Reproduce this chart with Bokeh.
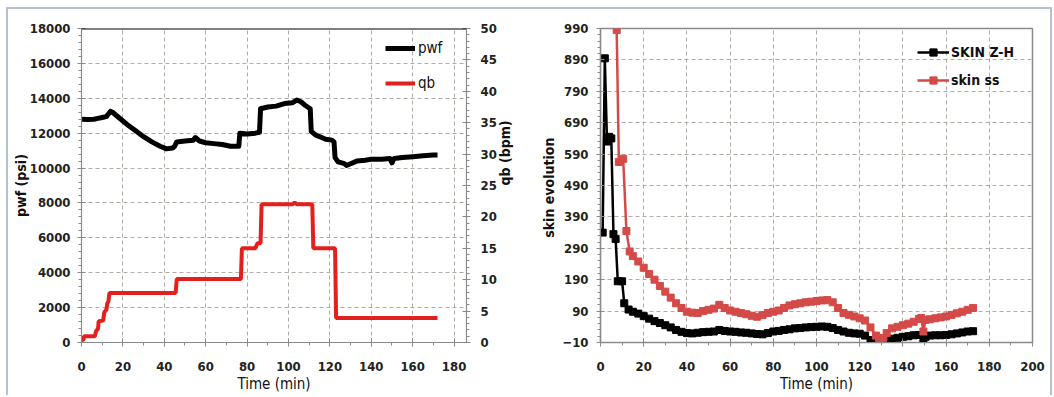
import math
from bokeh.plotting import figure
from bokeh.models import (Range1d, LinearAxis, SingleIntervalTicker, FixedTicker,
                          Legend, LegendItem, Span)
from bokeh.layouts import row
from bokeh.embed import file_html
from bokeh.resources import INLINE

# ---------------- data ----------------
pwf_time = [0, 3, 6, 8, 10, 12, 13, 14, 15, 18, 22, 26, 30, 34, 38, 41, 44, 45, 46,
            50, 54, 55, 57, 60, 64, 68, 72, 76, 76.5, 80, 84, 86, 86.5, 90, 94, 98,
            102, 104, 106, 108, 110.5, 111, 113, 116, 118, 121, 122, 122.5, 124, 127,
            128, 130, 133, 137, 140, 145, 149, 150, 151, 155, 160, 165, 170, 172]
pwf_psi = [12800, 12780, 12800, 12850, 12900, 12950, 13100, 13250, 13200, 12900, 12500,
           12150, 11800, 11500, 11250, 11100, 11150, 11250, 11500, 11550, 11600, 11750,
           11550, 11450, 11400, 11350, 11250, 11250, 12000, 11950, 12000, 12050, 13400,
           13500, 13550, 13700, 13750, 13900, 13800, 13600, 13400, 12100, 11900, 11750,
           11650, 11600, 11500, 10600, 10350, 10250, 10150, 10250, 10400, 10450, 10500,
           10500, 10550, 10300, 10550, 10600, 10650, 10700, 10750, 10750]

qb_time = [0, 1, 1.2, 6.5, 7, 8, 8.3, 10.5, 11, 12, 12.5, 13, 13.5, 45.5, 46, 77, 77.5,
           84, 85, 86.5, 87, 102, 103, 104, 111.5, 112, 122.5, 123, 172]
qb_bpm = [0.3, 0.5, 1.0, 1.0, 1.8, 2.2, 3.4, 3.5, 4.8, 5.2, 6.3, 6.5, 7.9, 7.9, 10.1,
          10.1, 15.0, 15.0, 15.8, 15.8, 22.0, 22.0, 22.3, 22.0, 22.0, 15.0, 15.0, 3.9, 3.9]

zh_time = [1, 2, 3, 4, 5, 6, 7, 8, 10, 11, 13, 15, 17.5, 20, 22.5, 25, 27.5, 30, 32.5,
           35, 37.5, 40, 42.5, 45, 47.5, 50, 52.5, 55, 57.5, 60, 62.5, 65, 67.5, 70,
           72.5, 75, 77.5, 80, 82.5, 85, 87.5, 90, 92.5, 95, 97.5, 100, 102.5, 105,
           107.5, 110, 112.5, 115, 117.5, 120, 122.5, 125, 127.5, 130, 132.5, 135,
           137.5, 140, 142.5, 145, 147.5, 149.5, 150.5, 152.5, 155, 157.5, 160, 162.5,
           165, 167.5, 170, 172.5]
skin_zh = [340, 895, 630, 645, 640, 335, 320, 185, 185, 115, 95, 88, 82, 74, 66, 58, 52,
           45, 38, 30, 24, 20, 19, 21, 23, 24, 25, 30, 27, 25, 24, 22, 21, 19, 17, 16,
           20, 25, 27, 30, 32, 35, 36, 38, 39, 40, 41, 40, 36, 30, 25, 21, 19, 18, 12,
           -2, -8, -10, -3, 2, 5, 8, 10, 13, 14, -5, 8, 12, 13, 13, 14, 16, 19, 22,
           25, 26]

ss_time = [7.5, 8.5, 10.5, 12, 13.5, 15, 17.5, 20, 22.5, 25, 27.5, 30, 32.5, 35, 37.5,
           40, 42.5, 45, 47.5, 50, 52.5, 55, 57.5, 60, 62.5, 65, 67.5, 70, 72.5, 75,
           77.5, 80, 82.5, 85, 87.5, 90, 92.5, 95, 97.5, 100, 102.5, 105, 107.5, 110,
           112.5, 115, 117.5, 120, 122.5, 125, 127.5, 129, 130, 131, 132.5, 135, 137.5,
           140, 142.5, 145, 147.5, 148.5, 149.5, 150.5, 152.5, 155, 157.5, 160, 162.5,
           165, 167.5, 170, 172.5]
skin_ss = [985, 565, 575, 345, 280, 265, 248, 228, 208, 190, 170, 152, 133, 115, 100,
           88, 85, 84, 90, 94, 98, 110, 100, 92, 88, 84, 80, 75, 72, 77, 84, 88, 92,
           100, 108, 112, 115, 118, 120, 122, 124, 125, 118, 100, 84, 78, 73, 67, 60,
           38, 12, -2, -8, 5, 20, 35, 40, 45, 50, 56, 65, 68, 25, 62, 64, 67, 70, 73,
           78, 83, 88, 94, 100]

skin_ticks = list(range(-10, 991, 100))

# ---------------- styling helpers ----------------
FONT = "DejaVu Sans Condensed, Liberation Sans"
GRID = "#b3aba5"
AXIS = "#8a8a8a"


def style_axis(ax, label_size="13px"):
    ax.axis_line_color = AXIS
    ax.axis_line_width = 1.2
    ax.major_tick_line_color = AXIS
    ax.minor_tick_line_color = AXIS
    ax.major_tick_in = 4
    ax.major_tick_out = 4
    ax.minor_tick_in = 0
    ax.minor_tick_out = 3
    ax.major_label_text_font = FONT
    ax.major_label_text_font_size = label_size
    ax.major_label_text_font_style = "bold"
    ax.major_label_text_color = "#222222"
    ax.axis_label_text_font = FONT
    ax.axis_label_text_color = "#111111"


def style_fig(p):
    p.background_fill_color = "white"
    p.border_fill_color = "white"
    p.xgrid.grid_line_color = GRID
    p.ygrid.grid_line_color = GRID
    p.xgrid.grid_line_dash = "4 3"
    p.ygrid.grid_line_dash = "4 3"
    p.xgrid.grid_line_width = 1
    p.ygrid.grid_line_width = 1


H = 386

# ---------------- left chart ----------------
p1 = figure(width=515, height=H, output_backend="svg", toolbar_location=None,
            x_range=Range1d(0, 186), y_range=Range1d(0, 18000))
p1.min_border_left = 73
p1.min_border_right = 51
p1.min_border_top = 19
p1.min_border_bottom = 53
p1.outline_line_color = None
style_fig(p1)
p1.extra_y_ranges = {"q": Range1d(0, 50)}

p1.xaxis.ticker = SingleIntervalTicker(interval=20, num_minor_ticks=2)
p1.yaxis.ticker = SingleIntervalTicker(interval=2000, num_minor_ticks=5)
style_axis(p1.xaxis[0])
style_axis(p1.yaxis[0])
p1.xaxis.axis_label = "Time (min)"
p1.xaxis.axis_label_text_font_size = "15px"
p1.xaxis.axis_label_text_font_style = "normal"
p1.xaxis.major_label_standoff = 15
p1.xaxis.axis_label_standoff = 1
p1.yaxis.axis_label = "pwf (psi)"
p1.yaxis.axis_label_text_font_size = "14px"
p1.yaxis.axis_label_text_font_style = "bold"
p1.yaxis.major_label_standoff = 7
p1.yaxis.axis_label_standoff = -2

qax = LinearAxis(y_range_name="q", ticker=SingleIntervalTicker(interval=5, num_minor_ticks=5))
style_axis(qax)
qax.axis_label = "qb (bpm)"
qax.axis_label_text_font_size = "14px"
qax.axis_label_text_font_style = "bold"
qax.major_label_standoff = 10
qax.axis_label_standoff = 5
try:
    qax.axis_label_orientation = math.pi / 2
except Exception:
    pass
p1.add_layout(qax, "right")

p1.add_layout(Span(location=18000, dimension="width", line_color="black", line_width=2))

r_pwf = p1.line(pwf_time, pwf_psi, line_color="black", line_width=5, line_join="round")
r_qb = p1.line(qb_time, qb_bpm, y_range_name="q", line_color="#e3201c", line_width=4)

leg1 = Legend(items=[LegendItem(label="pwf", renderers=[r_pwf]),
                     LegendItem(label="qb", renderers=[r_qb])],
              location=(304, 250))
leg1.background_fill_alpha = 0
leg1.border_line_color = None
leg1.padding = 0
leg1.margin = 0
leg1.spacing = 17
leg1.label_height = 18
leg1.glyph_height = 18
leg1.glyph_width = 30
leg1.label_standoff = 3
leg1.label_text_font = FONT
leg1.label_text_font_size = "15px"
leg1.label_text_color = "#111111"
p1.add_layout(leg1)

# ---------------- right chart ----------------
p2 = figure(width=527, height=H, output_backend="svg", toolbar_location=None,
            x_range=Range1d(0, 200), y_range=Range1d(-10, 990))
p2.min_border_left = 77
p2.min_border_right = 18
p2.min_border_top = 19
p2.min_border_bottom = 53
p2.outline_line_color = "#8a8a8a"
p2.outline_line_width = 1.5
style_fig(p2)

p2.xaxis.ticker = SingleIntervalTicker(interval=20, num_minor_ticks=2)
p2.yaxis.ticker = FixedTicker(ticks=skin_ticks,
                              minor_ticks=[t + 20 * k for t in skin_ticks[:-1] for k in range(1, 5)])
style_axis(p2.xaxis[0])
style_axis(p2.yaxis[0])
p2.xaxis.axis_label = "Time (min)"
p2.xaxis.axis_label_text_font_size = "15px"
p2.xaxis.axis_label_text_font_style = "normal"
p2.xaxis.major_label_standoff = 15
p2.xaxis.axis_label_standoff = 1
p2.yaxis.axis_label = "skin  evolution"
p2.yaxis.axis_label_text_font_size = "14px"
p2.yaxis.axis_label_text_font_style = "bold"
p2.yaxis.major_label_standoff = 8
p2.yaxis.axis_label_standoff = 2

r_zh_l = p2.line(zh_time, skin_zh, line_color="black", line_width=2.5)
r_zh_m = p2.scatter(zh_time, skin_zh, marker="square", size=7, fill_color="black",
                    line_color="black")
r_ss_l = p2.line(ss_time, skin_ss, line_color="#d44a48", line_width=2.5)
r_ss_m = p2.scatter(ss_time, skin_ss, marker="square", size=7, fill_color="#d44a48",
                    line_color="#d44a48")

leg2 = Legend(items=[LegendItem(label="SKIN Z-H", renderers=[r_zh_l, r_zh_m]),
                     LegendItem(label="skin ss", renderers=[r_ss_l, r_ss_m])],
              location=(317, 253))
leg2.background_fill_alpha = 0
leg2.border_line_color = None
leg2.padding = 0
leg2.margin = 0
leg2.spacing = 10
leg2.label_height = 18
leg2.glyph_height = 18
leg2.glyph_width = 32
leg2.label_standoff = 2
leg2.label_text_font = FONT
leg2.label_text_font_size = "14px"
leg2.label_text_font_style = "bold"
leg2.label_text_color = "#111111"
p2.add_layout(leg2)

layout = row(p1, p2, styles={"margin-top": "7px", "margin-left": "6px",
                             "border-top": "2px solid #b5c1cf",
                             "border-left": "2px solid #b5c1cf",
                             "border-right": "2px solid #b5c1cf"})

open("out.html", "w").write(file_html(layout, INLINE))
